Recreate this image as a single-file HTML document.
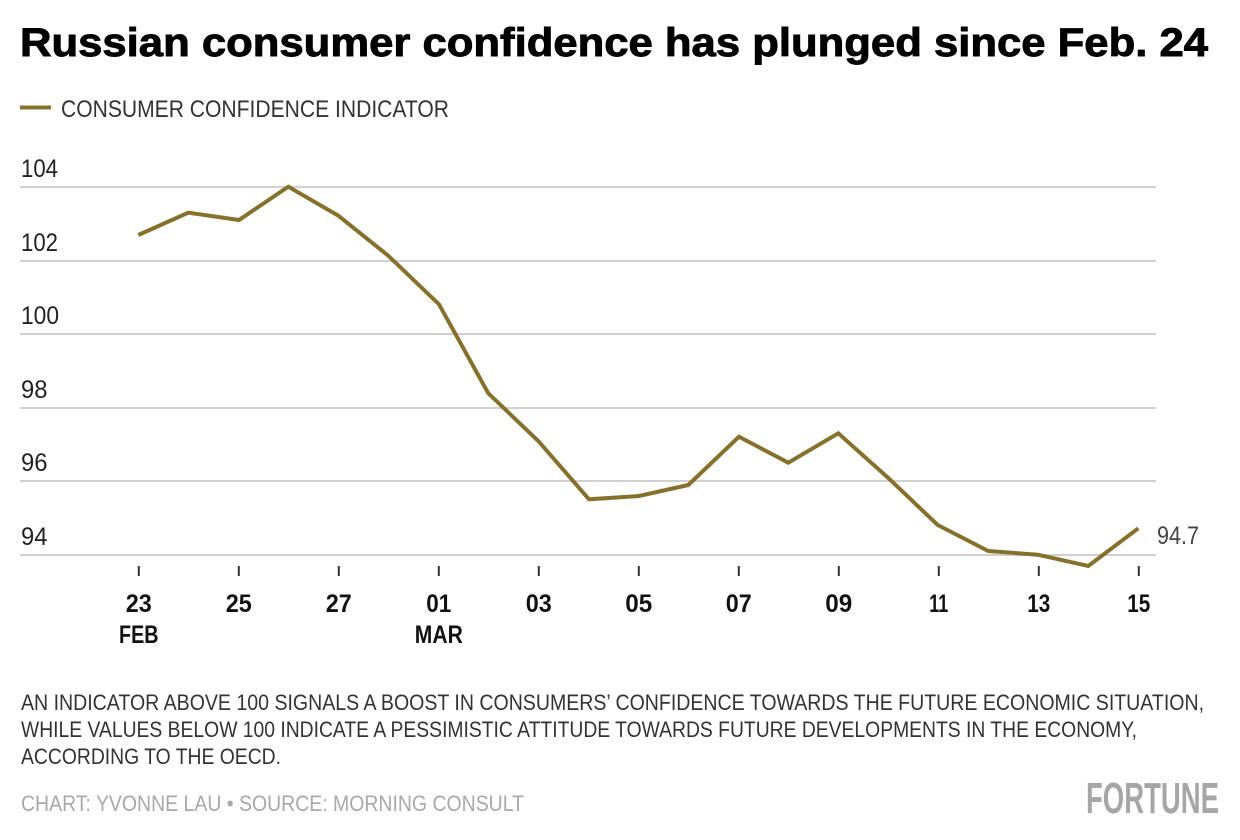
<!DOCTYPE html>
<html><head><meta charset="utf-8"><style>
html,body{margin:0;padding:0;background:#fff;}
svg{display:block;}
</style></head><body>
<svg width="1240" height="840" viewBox="0 0 1240 840" xmlns="http://www.w3.org/2000/svg" font-family="Liberation Sans, sans-serif">
<rect width="1240" height="840" fill="#fff"/>
<text x="20" y="56" font-size="40" font-weight="bold" fill="#000" stroke="#000" stroke-width="0.9" textLength="1188" lengthAdjust="spacingAndGlyphs">Russian consumer confidence has plunged since Feb. 24</text>
<line x1="20" y1="107.5" x2="51" y2="107.5" stroke="#85712b" stroke-width="4"/>
<text x="61" y="117" font-size="24" fill="#333" textLength="388" lengthAdjust="spacingAndGlyphs">CONSUMER CONFIDENCE INDICATOR</text>
<g stroke="#d0d0d0" stroke-width="2">
<line x1="20" y1="187" x2="1156" y2="187"/>
<line x1="20" y1="261" x2="1156" y2="261"/>
<line x1="20" y1="334" x2="1156" y2="334"/>
<line x1="20" y1="408" x2="1156" y2="408"/>
<line x1="20" y1="481" x2="1156" y2="481"/>
<line x1="20" y1="555" x2="1156" y2="555"/>
</g>
<g font-size="25" fill="#222">
<text x="21" y="177" textLength="37" lengthAdjust="spacingAndGlyphs">104</text>
<text x="21" y="251" textLength="37" lengthAdjust="spacingAndGlyphs">102</text>
<text x="21" y="324" textLength="38" lengthAdjust="spacingAndGlyphs">100</text>
<text x="21" y="398" textLength="26.5" lengthAdjust="spacingAndGlyphs">98</text>
<text x="21" y="471" textLength="26.5" lengthAdjust="spacingAndGlyphs">96</text>
<text x="21" y="545" textLength="26.5" lengthAdjust="spacingAndGlyphs">94</text>
</g>
<g stroke="#333" stroke-width="2">
<line x1="138.8" y1="566" x2="138.8" y2="576"/>
<line x1="238.8" y1="566" x2="238.8" y2="576"/>
<line x1="338.8" y1="566" x2="338.8" y2="576"/>
<line x1="438.8" y1="566" x2="438.8" y2="576"/>
<line x1="538.8" y1="566" x2="538.8" y2="576"/>
<line x1="638.8" y1="566" x2="638.8" y2="576"/>
<line x1="738.8" y1="566" x2="738.8" y2="576"/>
<line x1="838.8" y1="566" x2="838.8" y2="576"/>
<line x1="938.8" y1="566" x2="938.8" y2="576"/>
<line x1="1038.8" y1="566" x2="1038.8" y2="576"/>
<line x1="1138.8" y1="566" x2="1138.8" y2="576"/>
</g>
<g font-size="25" font-weight="bold" fill="#111" text-anchor="middle">
<text x="138.8" y="612" textLength="26" lengthAdjust="spacingAndGlyphs">23</text>
<text x="238.8" y="612" textLength="26" lengthAdjust="spacingAndGlyphs">25</text>
<text x="338.8" y="612" textLength="26" lengthAdjust="spacingAndGlyphs">27</text>
<text x="438.8" y="612" textLength="25" lengthAdjust="spacingAndGlyphs">01</text>
<text x="538.8" y="612" textLength="26" lengthAdjust="spacingAndGlyphs">03</text>
<text x="638.8" y="612" textLength="27" lengthAdjust="spacingAndGlyphs">05</text>
<text x="738.8" y="612" textLength="26" lengthAdjust="spacingAndGlyphs">07</text>
<text x="838.8" y="612" textLength="27" lengthAdjust="spacingAndGlyphs">09</text>
<text x="938.8" y="612" textLength="19" lengthAdjust="spacingAndGlyphs">11</text>
<text x="1038.8" y="612" textLength="23" lengthAdjust="spacingAndGlyphs">13</text>
<text x="1138.8" y="612" textLength="23" lengthAdjust="spacingAndGlyphs">15</text>
<text x="138.8" y="643" textLength="39.5" lengthAdjust="spacingAndGlyphs">FEB</text>
<text x="438.8" y="643" textLength="48" lengthAdjust="spacingAndGlyphs">MAR</text>
</g>
<polyline fill="none" stroke="#85712b" stroke-width="4" stroke-linejoin="miter" stroke-linecap="butt"
points="138.3,235 188.3,212.7 239,220 288.3,186.7 338.3,215.7 388.3,255.7 439,304.3 488.3,393.3 538.3,441 589,499.3 639,496 688.3,485 739,436.7 788.3,462.7 838.3,433.3 888.3,478 937.7,525 988.3,551 1037.7,554.7 1088.3,566 1138.3,528.3"/>
<text x="1157" y="544" font-size="25" fill="#444" textLength="42" lengthAdjust="spacingAndGlyphs">94.7</text>
<g font-size="22" fill="#333">
<text x="21" y="710" textLength="1183" lengthAdjust="spacingAndGlyphs">AN INDICATOR ABOVE 100 SIGNALS A BOOST IN CONSUMERS’ CONFIDENCE TOWARDS THE FUTURE ECONOMIC SITUATION,</text>
<text x="21" y="737" textLength="1116" lengthAdjust="spacingAndGlyphs">WHILE VALUES BELOW 100 INDICATE A PESSIMISTIC ATTITUDE TOWARDS FUTURE DEVELOPMENTS IN THE ECONOMY,</text>
<text x="21" y="764" textLength="260" lengthAdjust="spacingAndGlyphs">ACCORDING TO THE OECD.</text>
</g>
<text x="21" y="811" font-size="22" fill="#a8a8a8" textLength="503" lengthAdjust="spacingAndGlyphs">CHART: YVONNE LAU • SOURCE: MORNING CONSULT</text>
<text x="1086" y="813" font-size="44" font-weight="bold" fill="#a6a6a6" textLength="133" lengthAdjust="spacingAndGlyphs">FORTUNE</text>
</svg>
</body></html>
